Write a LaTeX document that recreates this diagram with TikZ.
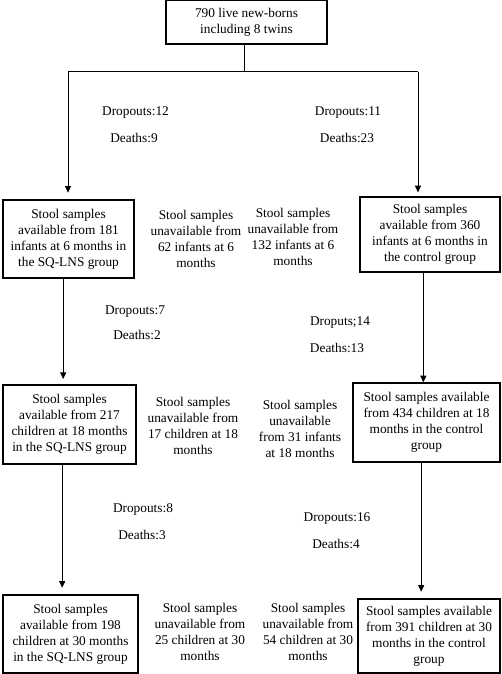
\documentclass[tikz,border=0pt]{standalone}
\usepackage{fontspec}
\setmainfont{Liberation Serif}
\usetikzlibrary{arrows.meta}

\tikzset{every picture/.style={line width=0.75pt}}
\tikzset{
  sbox/.style={draw, line width=0.9pt, align=center, inner sep=1pt, font=\fontsize{10}{12}\selectfont},
  stxt/.style={align=center, inner sep=0.75pt, font=\fontsize{10}{12}\selectfont},
  arr/.style={-{Triangle[length=5pt,width=4.5pt]}}
}

\begin{document}
\begin{tikzpicture}[x=0.75pt,y=0.75pt,yscale=-1,xscale=1]
	\useasboundingbox (0,0) rectangle (501,674);
	
	%Shape: Rectangle [top]
	\node [sbox, minimum width=161*0.75pt, minimum height=44*0.75pt] (born) at (246.5,22) {790 live new-borns\\including 8 twins};
	
	%Shape: Rectangle [6 months]
	\node [sbox, minimum width=131*0.75pt, minimum height=78*0.75pt] (s6L) at (68.5,239) {Stool samples\\available from 181\\infants at 6 months in\\the SQ-LNS group};
	\node [sbox, minimum width=140*0.75pt, minimum height=75*0.75pt] (s6R) at (430,234.5) {Stool samples\\available from 360\\infants at 6 months in\\the control group};
	%Shape: Rectangle [18 months]
	\node [sbox, minimum width=133*0.75pt, minimum height=79*0.75pt] (s18L) at (69.5,424.5) {Stool samples\\available from 217\\children at 18 months\\in the SQ-LNS group};
	\node [sbox, minimum width=147*0.75pt, minimum height=79*0.75pt] (s18R) at (426.5,422.5) {Stool samples available\\from 434 children at 18\\months in the control\\group};
	%Shape: Rectangle [30 months]
	\node [sbox, minimum width=135*0.75pt, minimum height=78*0.75pt] (s30L) at (70.5,634) {Stool samples\\available from 198\\children at 30 months\\in the SQ-LNS group};
	\node [sbox, minimum width=142*0.75pt, minimum height=74*0.75pt] (s30R) at (429,636) {Stool samples available\\from 391 children at 30\\months in the control\\group};
	
	% Text Node
	\node [stxt] (u6L) at (196,239) {Stool samples\\unavailable from\\62 infants at 6\\months};
	% Text Node
	\node [stxt] (u6R) at (293,237) {Stool samples\\unavailable from\\132 infants at 6\\months};
	% Text Node
	\node [stxt] (u18L) at (193,426) {Stool samples\\unavailable from\\17 children at 18\\months};
	% Text Node
	\node [stxt] (u18R) at (300,429) {Stool samples\\unavailable\\from 31 infants\\at 18 months};
	% Text Node
	\node [stxt] (u30L) at (200,632) {Stool samples\\unavailable from\\25 children at 30\\months};
	% Text Node
	\node [stxt] (u30R) at (308,632) {Stool samples\\unavailable from\\54 children at 30\\months};
	
	% Text Node
	\node [stxt] (drop1) at (135.5,113) {Dropouts:12};
	\node [stxt] (death1) at (134,138) {Deaths:9};
	% Text Node
	\node [stxt] (drop2) at (348,113) {Dropouts:11};
	\node [stxt] (death2) at (347,138) {Deaths:23};
	% Text Node
	\node [stxt] (drop3) at (135,312) {Dropouts:7};
	\node [stxt] (death3) at (137,335) {Deaths:2};
	% Text Node
	\node [stxt] (drop4) at (340,323) {Droputs;14};
	\node [stxt] (death4) at (337,348) {Deaths:13};
	% Text Node
	\node [stxt] (drop5) at (143,509) {Dropouts:8};
	\node [stxt] (death5) at (142,535) {Deaths:3};
	% Text Node
	\node [stxt] (drop6) at (337,518) {Dropouts:16};
	\node [stxt] (death6) at (336,544) {Deaths:4};
	
	%Straight Lines [split]
	\coordinate (split) at (244,72);
	\coordinate (splitL) at (68,72);
	\coordinate (splitR) at (418,72);
	\draw (born.south -| split) -- (split);
	\draw (splitL) -- (splitR);
	\draw [arr, shorten >=5pt] (splitL) -- (splitL |- s6L.north);
	\draw [arr, shorten >=3pt] (splitR) -- (splitR |- s6R.north);
	
	%Straight Lines [6 to 18 months]
	\draw [arr, shorten >=4pt] ([xshift=-4pt]s6L.south) -- ([xshift=-4pt]s6L.south |- s18L.north);
	\draw [arr] ([xshift=-5pt]s6R.south) -- ([xshift=-5pt]s6R.south |- s18R.north);
	
	%Straight Lines [18 to 30 months]
	\draw [arr, shorten >=5pt] ([xshift=-5.5pt]s18L.south) -- ([xshift=-5.5pt]s18L.south |- s30L.north);
	\draw [arr, shorten >=5pt] ([xshift=-4pt]s18R.south) -- ([xshift=-4pt]s18R.south |- s30R.north);
	
\end{tikzpicture}
\end{document}
